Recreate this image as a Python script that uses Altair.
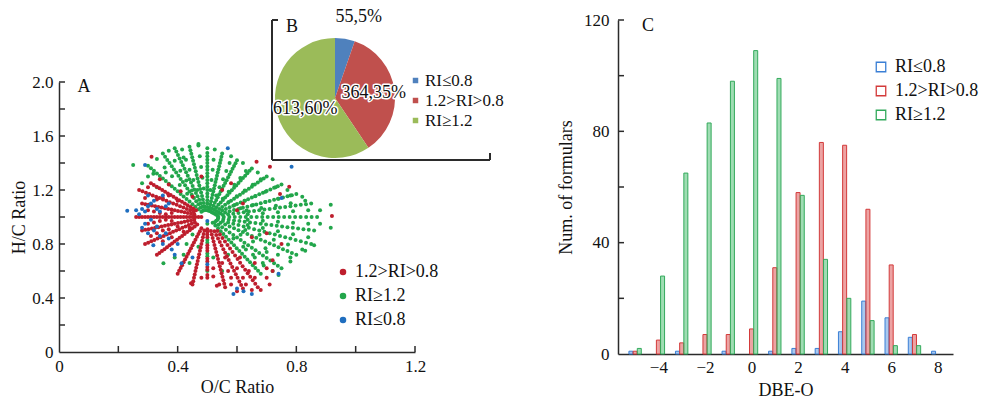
import altair as alt
import pandas as pd

FONT = "Liberation Serif"
AXC = "#2b2b2b"

# ---------------- Panel A : H/C vs O/C scatter ----------------
cat_red = "1.2>RI>0.8"
cat_green = "RI≥1.2"
cat_blue = "RI≤0.8"

green_pts = [
    (0.485, 1.047), (0.470, 1.094), (0.455, 1.141), (0.440, 1.188), (0.425, 1.235), (0.410, 1.282), (0.395, 1.329), (0.380, 1.376), (0.365, 1.423), (0.350, 1.470),
    (0.489, 1.051), (0.478, 1.102), (0.467, 1.153), (0.456, 1.204), (0.445, 1.255), (0.434, 1.306), (0.423, 1.357), (0.412, 1.408), (0.401, 1.459), (0.390, 1.510),
    (0.494, 1.052), (0.488, 1.104), (0.482, 1.156), (0.476, 1.208), (0.470, 1.260), (0.464, 1.312), (0.458, 1.364), (0.452, 1.416), (0.446, 1.468), (0.440, 1.520),
    (0.5, 1.05), (0.5, 1.10), (0.5, 1.15), (0.5, 1.20), (0.5, 1.25), (0.5, 1.30), (0.5, 1.35), (0.5, 1.40), (0.5, 1.45), (0.5, 1.51),
    (0.505, 1.047), (0.510, 1.094), (0.515, 1.141), (0.520, 1.188), (0.525, 1.235), (0.530, 1.282), (0.535, 1.329), (0.540, 1.376), (0.545, 1.423), (0.550, 1.470),
    (0.51, 1.042), (0.52, 1.084), (0.53, 1.126), (0.54, 1.168), (0.55, 1.21), (0.56, 1.252), (0.57, 1.294), (0.58, 1.336), (0.59, 1.378), (0.60, 1.42),
    (0.515, 1.036), (0.53, 1.072), (0.545, 1.108), (0.56, 1.144), (0.575, 1.18), (0.59, 1.216), (0.605, 1.252), (0.62, 1.288), (0.635, 1.324), (0.65, 1.36),
    (0.52, 1.03), (0.54, 1.06), (0.56, 1.09), (0.58, 1.12), (0.60, 1.15), (0.62, 1.18), (0.64, 1.21), (0.66, 1.24), (0.68, 1.27), (0.70, 1.30),
    (0.525, 1.024), (0.55, 1.048), (0.575, 1.072), (0.60, 1.096), (0.625, 1.12), (0.65, 1.144), (0.675, 1.168), (0.70, 1.192), (0.725, 1.216), (0.75, 1.24),
    (0.53, 1.017), (0.56, 1.034), (0.59, 1.051), (0.62, 1.068), (0.65, 1.085), (0.68, 1.102), (0.71, 1.119), (0.74, 1.136), (0.77, 1.153), (0.80, 1.17),
    (0.535, 1.01), (0.57, 1.02), (0.605, 1.03), (0.64, 1.04), (0.675, 1.05), (0.71, 1.06), (0.745, 1.07), (0.78, 1.08), (0.815, 1.09), (0.85, 1.10),
    (0.537, 1.0), (0.574, 1.0), (0.611, 1.0), (0.648, 1.0), (0.685, 1.0), (0.722, 1.0), (0.759, 1.0), (0.796, 1.0), (0.833, 1.0), (0.87, 1.0),
    (0.536, 0.99), (0.572, 0.98), (0.608, 0.97), (0.644, 0.96), (0.68, 0.95), (0.716, 0.94), (0.752, 0.93), (0.788, 0.92), (0.824, 0.91), (0.86, 0.90),
    (0.535, 0.98), (0.57, 0.96), (0.605, 0.94), (0.64, 0.92), (0.675, 0.90), (0.71, 0.88), (0.745, 0.86), (0.78, 0.84), (0.815, 0.82), (0.85, 0.80),
    (0.53, 0.972), (0.56, 0.944), (0.59, 0.916), (0.62, 0.888), (0.65, 0.86), (0.68, 0.832), (0.71, 0.804), (0.74, 0.776), (0.77, 0.748), (0.80, 0.72),
    (0.525, 0.962), (0.55, 0.924), (0.575, 0.886), (0.60, 0.848), (0.625, 0.81), (0.65, 0.772), (0.675, 0.734), (0.70, 0.696), (0.725, 0.658), (0.75, 0.62),
    (0.518, 0.958), (0.536, 0.916), (0.554, 0.874), (0.572, 0.832), (0.59, 0.79), (0.608, 0.748), (0.626, 0.706), (0.644, 0.664), (0.662, 0.622), (0.68, 0.58),
    (0.48, 1.038), (0.46, 1.076), (0.44, 1.114), (0.42, 1.152), (0.40, 1.19), (0.38, 1.228), (0.36, 1.266), (0.34, 1.304), (0.32, 1.342), (0.30, 1.38),
    (0.53, 1.16), (0.541, 1.22), (0.553, 1.28), (0.564, 1.34), (0.575, 1.40),
    (0.552, 1.136), (0.572, 1.187), (0.591, 1.238), (0.611, 1.289), (0.63, 1.34),
    (0.572, 1.112), (0.599, 1.154), (0.626, 1.196), (0.653, 1.238), (0.68, 1.28),
    (0.592, 1.088), (0.627, 1.121), (0.661, 1.154), (0.696, 1.187), (0.73, 1.22),
    (0.612, 1.064), (0.654, 1.088), (0.696, 1.112), (0.738, 1.136), (0.78, 1.16),
    (0.632, 1.048), (0.682, 1.066), (0.731, 1.084), (0.781, 1.102), (0.83, 1.12),
    (0.636, 1.02), (0.687, 1.028), (0.738, 1.035), (0.789, 1.043), (0.84, 1.05),
    (0.636, 0.98), (0.687, 0.972), (0.738, 0.965), (0.789, 0.957), (0.84, 0.95),
    (0.636, 0.94), (0.687, 0.918), (0.738, 0.895), (0.789, 0.873), (0.84, 0.85),
    (0.628, 0.904), (0.676, 0.868), (0.724, 0.832), (0.772, 0.796), (0.82, 0.76),
    (0.612, 0.868), (0.654, 0.819), (0.696, 0.769), (0.738, 0.72), (0.78, 0.67),
    (0.588, 0.84), (0.621, 0.78), (0.654, 0.72), (0.687, 0.66), (0.72, 0.60),
    (0.488, 1.212), (0.4835, 1.2915), (0.479, 1.371), (0.4745, 1.4505), (0.47, 1.53),
    (0.466, 1.20), (0.453, 1.275), (0.44, 1.35), (0.428, 1.425), (0.415, 1.50),
    (0.448, 1.196), (0.429, 1.27), (0.409, 1.343), (0.39, 1.417), (0.37, 1.49),
    (0.432, 1.172), (0.407, 1.237), (0.381, 1.301), (0.356, 1.366), (0.33, 1.43),
    (0.51, 1.20), (0.514, 1.275), (0.518, 1.35), (0.521, 1.425), (0.525, 1.50),
    (0.25, 1.385), (0.318, 1.32), (0.916, 1.09), (0.916, 0.92), (0.86, 0.79), (0.352, 0.657),
    (0.39, 0.70), (0.42, 0.72), (0.44, 0.66), (0.50, 0.95), (0.50, 0.83), (0.50, 0.71), (0.50, 0.60),
    (0.55, 0.60), (0.52, 0.70), (0.47, 0.78), (0.43, 0.80), (0.74, 0.57), (0.66, 0.70), (0.70, 0.74),
    (0.63, 0.76), (0.57, 0.72), (0.45, 0.87), (0.30, 1.30), (0.28, 1.25), (0.33, 1.22), (0.36, 1.33),
    (0.42, 1.44), (0.47, 1.54), (0.58, 1.45), (0.62, 1.40), (0.67, 1.33), (0.72, 1.28), (0.77, 1.20),
    (0.82, 1.15), (0.88, 1.05), (0.88, 0.95), (0.83, 0.75), (0.78, 0.70), (0.69, 0.64),
]

# more green dots lying between the ones above along the same rays
green_ray_mid = [
    (0.4775, 1.0705), (0.4625, 1.1175), (0.4475, 1.1645), (0.4325, 1.2115), (0.4175, 1.2585), (0.4025, 1.3055), (0.3875, 1.3525), (0.3725, 1.3995), (0.3575, 1.4465),
    (0.4835, 1.0765), (0.4725, 1.1275), (0.4615, 1.1785), (0.4505, 1.2295), (0.4395, 1.2805), (0.4285, 1.3315), (0.4175, 1.3825), (0.4065, 1.4335), (0.3955, 1.4845),
    (0.491, 1.078), (0.485, 1.13), (0.479, 1.182), (0.473, 1.234), (0.467, 1.286), (0.461, 1.338), (0.455, 1.39), (0.449, 1.442), (0.443, 1.494),
    (0.5, 1.075), (0.5, 1.125), (0.5, 1.175), (0.5, 1.225), (0.5, 1.275), (0.5, 1.325), (0.5, 1.375), (0.5, 1.425), (0.5, 1.475),
    (0.5075, 1.0705), (0.5125, 1.1175), (0.5175, 1.1645), (0.5225, 1.2115), (0.5275, 1.2585), (0.5325, 1.3055), (0.5375, 1.3525), (0.5425, 1.3995), (0.5475, 1.4465),
    (0.515, 1.063), (0.525, 1.105), (0.535, 1.147), (0.545, 1.189), (0.555, 1.231), (0.565, 1.273), (0.575, 1.315), (0.585, 1.357), (0.595, 1.399),
    (0.5225, 1.054), (0.5375, 1.09), (0.5525, 1.126), (0.5675, 1.162), (0.5825, 1.198), (0.5975, 1.234), (0.6125, 1.27), (0.6275, 1.306), (0.6425, 1.342),
    (0.53, 1.045), (0.55, 1.075), (0.57, 1.105), (0.59, 1.135), (0.61, 1.165), (0.63, 1.195), (0.65, 1.225), (0.67, 1.255), (0.69, 1.285),
    (0.5375, 1.036), (0.5625, 1.06), (0.5875, 1.084), (0.6125, 1.108), (0.6375, 1.132), (0.6625, 1.156), (0.6875, 1.18), (0.7125, 1.204), (0.7375, 1.228),
    (0.545, 1.0255), (0.575, 1.0425), (0.605, 1.0595), (0.635, 1.0765), (0.665, 1.0935), (0.695, 1.1105), (0.725, 1.1275), (0.755, 1.1445), (0.785, 1.1615),
    (0.5525, 1.015), (0.5875, 1.025), (0.6225, 1.035), (0.6575, 1.045), (0.6925, 1.055), (0.7275, 1.065), (0.7625, 1.075), (0.7975, 1.085), (0.8325, 1.095),
    (0.5555, 1.0), (0.5925, 1.0), (0.6295, 1.0), (0.6665, 1.0), (0.7035, 1.0), (0.7405, 1.0), (0.7775, 1.0), (0.8145, 1.0), (0.8515, 1.0),
    (0.554, 0.985), (0.59, 0.975), (0.626, 0.965), (0.662, 0.955), (0.698, 0.945), (0.734, 0.935), (0.77, 0.925), (0.806, 0.915), (0.842, 0.905),
    (0.5525, 0.97), (0.5875, 0.95), (0.6225, 0.93), (0.6575, 0.91), (0.6925, 0.89), (0.7275, 0.87), (0.7625, 0.85), (0.7975, 0.83), (0.8325, 0.81),
    (0.545, 0.958), (0.575, 0.93), (0.605, 0.902), (0.635, 0.874), (0.665, 0.846), (0.695, 0.818), (0.725, 0.79), (0.755, 0.762), (0.785, 0.734),
    (0.5375, 0.943), (0.5625, 0.905), (0.5875, 0.867), (0.6125, 0.829), (0.6375, 0.791), (0.6625, 0.753), (0.6875, 0.715), (0.7125, 0.677), (0.7375, 0.639),
    (0.527, 0.937), (0.545, 0.895), (0.563, 0.853), (0.581, 0.811), (0.599, 0.769), (0.617, 0.727), (0.635, 0.685), (0.653, 0.643), (0.671, 0.601),
    (0.47, 1.057), (0.45, 1.095), (0.43, 1.133), (0.41, 1.171), (0.39, 1.209), (0.37, 1.247), (0.35, 1.285), (0.33, 1.323), (0.31, 1.361),
    (0.5, 0.81), (0.5, 0.73),
]

red_pts = [
    (0.26, 1.0), (0.28, 1.0), (0.30, 1.0), (0.32, 1.0), (0.34, 1.0), (0.36, 1.0), (0.38, 1.0), (0.40, 1.0), (0.42, 1.0), (0.44, 1.0), (0.46, 1.0), (0.48, 1.0),
    (0.454, 1.04), (0.431, 1.06), (0.408, 1.08), (0.385, 1.10), (0.362, 1.12), (0.339, 1.14), (0.316, 1.16), (0.293, 1.18), (0.27, 1.20),
    (0.456, 1.02), (0.434, 1.03), (0.412, 1.04), (0.39, 1.05), (0.368, 1.06), (0.346, 1.07), (0.324, 1.08), (0.302, 1.09), (0.28, 1.10),
    (0.456, 0.98), (0.434, 0.97), (0.412, 0.96), (0.39, 0.95), (0.368, 0.94), (0.346, 0.93), (0.324, 0.92), (0.302, 0.91), (0.28, 0.90),
    (0.458, 0.96), (0.437, 0.94), (0.416, 0.92), (0.395, 0.90), (0.374, 0.88), (0.353, 0.86), (0.332, 0.84), (0.311, 0.82), (0.29, 0.80),
    (0.466, 0.944), (0.449, 0.916), (0.432, 0.888), (0.415, 0.86), (0.398, 0.832), (0.381, 0.804), (0.364, 0.776), (0.347, 0.748), (0.33, 0.72),
    (0.462, 1.05), (0.443, 1.075), (0.424, 1.10), (0.405, 1.125), (0.386, 1.15), (0.367, 1.175), (0.348, 1.20), (0.329, 1.225), (0.31, 1.25),
    (0.30, 1.05), (0.32, 1.04), (0.34, 1.03), (0.36, 1.02), (0.38, 1.03), (0.30, 0.95), (0.32, 0.96), (0.34, 0.97), (0.36, 0.98), (0.38, 0.97),
    (0.31, 0.86), (0.33, 0.88), (0.35, 0.90), (0.37, 0.91), (0.40, 0.93), (0.33, 1.13), (0.35, 1.14), (0.37, 1.16), (0.29, 1.14), (0.40, 1.12),
    (0.42, 0.89), (0.44, 0.92), (0.35, 0.82), (0.38, 0.85), (0.30, 1.22), (0.34, 1.28), (0.37, 1.24), (0.41, 1.19),
    (0.5, 0.91), (0.5, 0.87), (0.5, 0.79), (0.5, 0.75), (0.5, 0.67), (0.5, 0.63), (0.5, 0.55),
    (0.48, 0.916), (0.47, 0.874), (0.46, 0.832), (0.45, 0.79), (0.44, 0.748), (0.43, 0.706), (0.42, 0.664), (0.41, 0.622), (0.40, 0.58),
    (0.49, 0.90), (0.485, 0.85), (0.48, 0.80), (0.475, 0.75), (0.47, 0.70), (0.465, 0.65), (0.46, 0.60), (0.455, 0.55), (0.45, 0.50),
    (0.512, 0.896), (0.518, 0.844), (0.524, 0.792), (0.53, 0.74), (0.536, 0.688), (0.542, 0.636), (0.548, 0.584), (0.554, 0.532), (0.56, 0.48),
    (0.524, 0.894), (0.536, 0.841), (0.548, 0.788), (0.56, 0.735), (0.572, 0.682), (0.584, 0.629), (0.596, 0.576), (0.608, 0.523), (0.62, 0.47),
    (0.534, 0.896), (0.551, 0.844), (0.568, 0.792), (0.585, 0.74), (0.602, 0.688), (0.619, 0.636), (0.636, 0.584), (0.653, 0.532), (0.67, 0.48),
    (0.52, 0.62), (0.55, 0.66), (0.57, 0.60), (0.58, 0.55), (0.60, 0.62), (0.62, 0.55), (0.64, 0.60), (0.66, 0.55), (0.70, 0.55), (0.72, 0.60),
    (0.54, 0.50), (0.58, 0.50), (0.63, 0.50), (0.65, 0.46), (0.60, 0.45), (0.52, 0.56), (0.56, 0.70), (0.61, 0.70), (0.66, 0.66), (0.70, 0.62),
    (0.48, 0.55), (0.445, 0.51), (0.532, 0.49), (0.68, 0.46), (0.71, 0.50),
    (0.312, 1.446), (0.666, 1.41), (0.711, 1.373), (0.776, 1.225), (0.92, 1.007), (0.745, 1.17), (0.58, 1.25), (0.62, 1.10),
    (0.70, 0.88), (0.75, 0.80), (0.72, 0.68), (0.55, 1.20), (0.65, 0.85), (0.60, 1.05), (0.48, 1.30), (0.45, 1.15),
]

# more red dots lying between the ones above along the same rays
red_ray_mid = [
    (0.27, 1.0), (0.29, 1.0), (0.31, 1.0), (0.33, 1.0), (0.35, 1.0), (0.37, 1.0), (0.39, 1.0), (0.41, 1.0), (0.43, 1.0), (0.45, 1.0), (0.47, 1.0),
    (0.4425, 1.05), (0.4195, 1.07), (0.3965, 1.09), (0.3735, 1.11), (0.3505, 1.13), (0.3275, 1.15), (0.3045, 1.17), (0.2815, 1.19),
    (0.445, 1.025), (0.423, 1.035), (0.401, 1.045), (0.379, 1.055), (0.357, 1.065), (0.335, 1.075), (0.313, 1.085), (0.291, 1.095),
    (0.445, 0.975), (0.423, 0.965), (0.401, 0.955), (0.379, 0.945), (0.357, 0.935), (0.335, 0.925), (0.313, 0.915), (0.291, 0.905),
    (0.4475, 0.95), (0.4265, 0.93), (0.4055, 0.91), (0.3845, 0.89), (0.3635, 0.87), (0.3425, 0.85), (0.3215, 0.83), (0.3005, 0.81),
    (0.4575, 0.93), (0.4405, 0.902), (0.4235, 0.874), (0.4065, 0.846), (0.3895, 0.818), (0.3725, 0.79), (0.3555, 0.762), (0.3385, 0.734),
    (0.4525, 1.0625), (0.4335, 1.0875), (0.4145, 1.1125), (0.3955, 1.1375), (0.3765, 1.1625), (0.3575, 1.1875), (0.3385, 1.2125), (0.3195, 1.2375),
    (0.475, 0.895), (0.465, 0.853), (0.455, 0.811), (0.445, 0.769), (0.435, 0.727), (0.425, 0.685), (0.415, 0.643), (0.405, 0.601),
    (0.4875, 0.875), (0.4825, 0.825), (0.4775, 0.775), (0.4725, 0.725), (0.4675, 0.675), (0.4625, 0.625), (0.4575, 0.575), (0.4525, 0.525),
    (0.515, 0.87), (0.521, 0.818), (0.527, 0.766), (0.533, 0.714), (0.539, 0.662), (0.545, 0.61), (0.551, 0.558), (0.557, 0.506),
    (0.53, 0.8675), (0.542, 0.8145), (0.554, 0.7615), (0.566, 0.7085), (0.578, 0.6555), (0.59, 0.6025), (0.602, 0.5495), (0.614, 0.4965),
    (0.5425, 0.87), (0.5595, 0.818), (0.5765, 0.766), (0.5935, 0.714), (0.6105, 0.662), (0.6275, 0.61), (0.6445, 0.558), (0.6615, 0.506),
    (0.5, 0.89), (0.5, 0.85), (0.5, 0.77), (0.5, 0.69), (0.5, 0.61), (0.5, 0.57),
]

blue_pts = [
    (0.23, 1.046), (0.26, 1.05), (0.27, 1.02), (0.28, 1.06), (0.29, 1.04), (0.30, 1.08), (0.31, 1.10), (0.32, 1.12), (0.33, 1.06), (0.34, 1.04),
    (0.31, 0.98), (0.29, 0.95), (0.28, 0.92), (0.30, 0.88), (0.32, 0.90), (0.33, 0.93), (0.34, 0.86), (0.36, 0.88), (0.35, 0.80), (0.318, 0.79),
    (0.37, 0.84), (0.38, 0.76), (0.36, 1.08), (0.37, 1.10), (0.35, 1.16), (0.30, 1.16), (0.40, 0.80), (0.39, 0.72),
    (0.588, 0.43), (0.622, 0.45), (0.65, 0.43), (0.60, 0.47), (0.413, 0.657), (0.50, 0.65), (0.50, 0.97), (0.74, 0.58), (0.45, 0.70),
    (0.29, 1.385), (0.569, 1.51), (0.784, 1.373), (0.75, 1.14),
]

# ---------------- Panel B : pie ----------------
pie_cats = [cat_blue, cat_red, cat_green]
pie_counts = [55, 364, 613]
pie_labels = ["55,5%", "364,35%", "613,60%"]

# ---------------- Panel C : DBE-O bars ----------------
dbe_o = [-5, -4, -3, -2, -1, 0, 1, 2, 3, 4, 5, 6, 7, 8]
blue_counts = [1, 0, 1, 0, 1, 0, 1, 2, 2, 8, 19, 13, 6, 1]
red_counts = [1, 5, 4, 7, 7, 9, 31, 58, 76, 75, 52, 32, 7, 0]
green_counts = [2, 28, 65, 83, 98, 109, 99, 57, 34, 20, 12, 3, 3, 0]

# axis values
a_x_labels = [0, 0.4, 0.8, 1.2]
a_x_ticks = [0.2, 0.4, 0.6, 0.8, 1.0, 1.2]
a_y_labels = [0, 0.4, 0.8, 1.2, 1.6, 2.0]
a_y_ticks = [0.2, 0.4, 0.6, 0.8, 1.0, 1.2, 1.4, 1.6, 1.8, 2.0]
c_x_labels = [-4, -2, 0, 2, 4, 6, 8]
c_y_labels = [0, 40, 80, 120]
c_y_ticks = [20, 40, 60, 80, 100, 120]

# ---------------- build tables ----------------
scatter_df = pd.DataFrame(
    [(x, y, cat_green) for x, y in green_pts + green_ray_mid]
    + [(x, y, cat_red) for x, y in red_pts + red_ray_mid]
    + [(x, y, cat_blue) for x, y in blue_pts],
    columns=["oc", "hc", "cat"],
)
pie_df = pd.DataFrame({"cat": pie_cats, "n": pie_counts, "lab": pie_labels})
bar_rows = []
for cat, vals in [(cat_blue, blue_counts), (cat_red, red_counts), (cat_green, green_counts)]:
    for d, v in zip(dbe_o, vals):
        bar_rows.append((d, cat, v))
bar_df = pd.DataFrame(bar_rows, columns=["dbe", "series", "n"])

W, H = 985, 398
ax_scale = alt.Scale(domain=[0, 1.2], range=[59, 415], nice=False, zero=False)
ay_scale = alt.Scale(domain=[0, 2.0], range=[352, 82], nice=False, zero=False)
cx_scale = alt.Scale(domain=[-5.52, 8.44], range=[618, 953], nice=False, zero=False)
cy_scale = alt.Scale(domain=[0, 120], range=[354, 20], nice=False, zero=False)

axis_common = dict(
    grid=False, ticks=False, domainColor=AXC, domainWidth=1.5,
    labelFont=FONT, labelFontSize=17, labelColor="#111",
    titleFont=FONT, titleFontSize=18, titleFontWeight="normal", titleColor="#111",
    labelFlush=False, labelOverlap=False, minExtent=0,
)
one = alt.Data(values=[{}])
layers = []

# Panel A scatter
layers.append(
    alt.Chart(scatter_df).mark_circle(size=16, opacity=1).encode(
        x=alt.X("oc:Q", scale=ax_scale, axis=alt.Axis(
            orient="bottom", offset=352 - H, values=a_x_labels,
            labelExpr="datum.value == 0 ? '0' : format(datum.value, '.1f')",
            title="O/C Ratio", labelPadding=6, titlePadding=4, **axis_common)),
        y=alt.Y("hc:Q", scale=ay_scale, axis=alt.Axis(
            orient="left", offset=-59, values=a_y_labels,
            labelExpr="datum.value == 0 ? '0' : format(datum.value, '.1f')",
            title="H/C Ratio", labelPadding=6, titlePadding=3, **axis_common)),
        color=alt.Color("cat:N", scale=alt.Scale(domain=[cat_red, cat_green, cat_blue],
                                                 range=["#BE1E2D", "#22A64B", "#1F6EBF"]),
                        legend=alt.Legend(orient="none", legendX=334, legendY=263, direction="vertical",
                                          title=None, symbolType="circle", symbolSize=42,
                                          labelFont=FONT, labelFontSize=18, labelColor="#111",
                                          rowPadding=6, labelOffset=3, padding=0)),
    )
)
# inward ticks A
layers.append(alt.Chart(pd.DataFrame({"v": a_x_ticks})).mark_rule(color=AXC, strokeWidth=1.5).encode(
    x=alt.X("v:Q", scale=ax_scale, axis=None), y=alt.value(352), y2=alt.value(346)))
layers.append(alt.Chart(pd.DataFrame({"v": a_y_ticks})).mark_rule(color=AXC, strokeWidth=1.5).encode(
    y=alt.Y("v:Q", scale=ay_scale, axis=None), x=alt.value(59), x2=alt.value(65)))

# Panel B frame
for enc in [
    dict(x=alt.value(272), y=alt.value(20), y2=alt.value(160)),
    dict(x=alt.value(272), x2=alt.value(490), y=alt.value(160)),
    dict(x=alt.value(272), x2=alt.value(278), y=alt.value(20)),
    dict(x=alt.value(490), y=alt.value(153), y2=alt.value(160)),
]:
    layers.append(alt.Chart(one).mark_rule(color=AXC, strokeWidth=2).encode(**enc))

# Panel B pie
pie_base = alt.Chart(pie_df).transform_window(ord="row_number()")
layers.append(
    pie_base.mark_arc(radius=60).encode(
        theta=alt.Theta("n:Q", stack=True),
        order=alt.Order("ord:Q"),
        color=alt.Color("cat:N", scale=alt.Scale(domain=pie_cats, range=["#4F81BD", "#C0504D", "#9BBB59"]),
                        legend=alt.Legend(orient="none", legendX=407, legendY=72, direction="vertical",
                                          title=None, symbolType="square", symbolSize=30,
                                          labelFont=FONT, labelFontSize=17, labelColor="#111",
                                          rowPadding=2, labelOffset=1, padding=0)),
        x=alt.value(335), y=alt.value(98),
    )
)
for cat, rad, dx, dy in [(cat_blue, 82, 10, 0), (cat_red, 39, 0, 0), (cat_green, 31, 0, 2)]:
    for halo in (True, False):
        props = dict(radius=rad, dx=dx, dy=dy, font=FONT, fontSize=18, align="center", baseline="middle")
        if halo:
            props.update(color="white", stroke="white", strokeWidth=3, strokeJoin="round")
        else:
            props.update(color="#111")
        layers.append(
            pie_base.mark_text(**props).encode(
                theta=alt.Theta("n:Q", stack=True),
                order=alt.Order("ord:Q"),
                detail=alt.Detail("cat:N"),
                text=alt.condition(alt.datum.cat == cat, "lab:N", alt.value("")),
                x=alt.value(335), y=alt.value(98),
            )
        )

# Panel C bars
series = [cat_blue, cat_red, cat_green]
bar_base = alt.Chart(bar_df).transform_filter("datum.n > 0").transform_calculate(
    xpos="datum.dbe + (datum.series == '%s' ? -0.18 : (datum.series == '%s' ? 0.18 : 0))" % (cat_blue, cat_green)
)
layers.append(
    bar_base.mark_bar(size=4, strokeWidth=0).encode(
        x=alt.X("xpos:Q", scale=cx_scale, axis=None),
        y=alt.Y("n:Q", scale=cy_scale, axis=None, stack=None),
        color=alt.Color("series:N", scale=alt.Scale(domain=series, range=["#A9C8EE", "#EDA3A3", "#9FDDB3"]), legend=None),
    )
)
layers.append(
    bar_base.mark_bar(size=4, filled=False, strokeWidth=1).encode(
        x=alt.X("xpos:Q", scale=cx_scale, axis=alt.Axis(
            orient="bottom", offset=354 - H, values=c_x_labels, format="d",
            title="DBE-O", labelPadding=5, titlePadding=6, **axis_common)),
        y=alt.Y("n:Q", scale=cy_scale, stack=None, axis=alt.Axis(
            orient="left", offset=-618, values=c_y_labels, format="d",
            title="Num. of formulars", labelPadding=9, titlePadding=8, **axis_common)),
        color=alt.Color("series:N", scale=alt.Scale(domain=series, range=["#3A7FD5", "#D33A3A", "#33AA5C"]),
                        legend=alt.Legend(orient="none", legendX=872, legendY=58, direction="vertical",
                                          title=None, symbolType="square", symbolSize=90, symbolStrokeWidth=1.3,
                                          labelFont=FONT, labelFontSize=18, labelColor="#111",
                                          rowPadding=6, labelOffset=5, padding=0)),
    )
)
layers.append(alt.Chart(pd.DataFrame({"v": c_y_ticks})).mark_rule(color=AXC, strokeWidth=1.5).encode(
    y=alt.Y("v:Q", scale=cy_scale, axis=None), x=alt.value(618), x2=alt.value(624)))

# panel letters
for letter, px, py in [("A", 84, 87), ("B", 292, 27), ("C", 648, 26)]:
    layers.append(alt.Chart(one).mark_text(text=letter, font=FONT, fontSize=18, color="#111",
                                           align="center", baseline="middle").encode(
        x=alt.value(px), y=alt.value(py)))

chart = alt.layer(*layers).resolve_scale(
    x="independent", y="independent", color="independent"
).properties(
    width=W, height=H, autosize=alt.AutoSizeParams(type="none"), padding=0
).configure_view(stroke=None)

chart.save("out.html", embed_options={"renderer": "svg", "actions": False})
